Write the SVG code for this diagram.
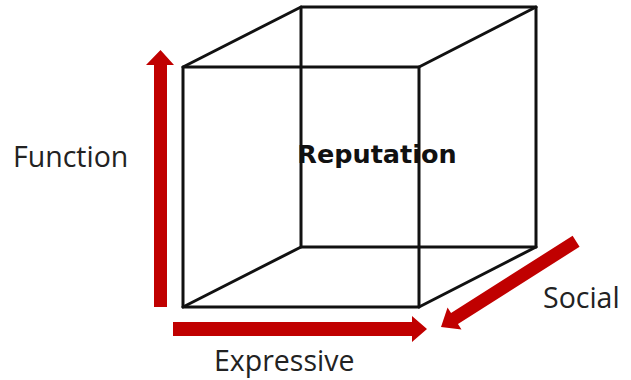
<svg xmlns="http://www.w3.org/2000/svg" width="631" height="380" viewBox="0 0 631 380">
<style>
.edge{stroke:#111;stroke-width:3;fill:none;stroke-linecap:round;stroke-linejoin:round}
.arrow{fill:#c00000}
.lbl{font-family:"Open Sans","Noto Sans",sans-serif;font-size:28.5px;fill:#222}
.title{font-family:"DejaVu Sans",sans-serif;font-weight:bold;font-size:25.5px;fill:#111}
</style>
<rect width="631" height="380" fill="#fff"/>
<g id="cube">
<path class="edge" d="M183 67 H419 V307 H183 Z"/>
<path class="edge" d="M301 7 H536 V247 H301 Z"/>
<path class="edge" d="M183 67 L301 7 M419 67 L536 7 M183 307 L301 247 M419 307 L536 247"/>
</g>
<g id="connectors">
<polygon class="arrow" points="154,307 167,307 167,65 174,65 160.5,50 146,65 154,65"/>
<polygon class="arrow" points="173,322 412,322 412,316 427,329 412,342 412,336 173,336"/>
<g transform="translate(441,327) rotate(-32.4)">
<polygon class="arrow" points="0,0 16,-13 16,-6.5 160,-6.5 160,6.5 16,6.5 16,13"/>
</g>
</g>
<g id="reputation"><text class="title" x="377" y="163" text-anchor="middle">Reputation</text></g>
<g id="function"><text class="lbl" x="13" y="167">Function</text></g>
<g id="expressive"><text class="lbl" x="214" y="371">Expressive</text></g>
<g id="social"><text class="lbl" x="543" y="308">Social</text></g>
</svg>
